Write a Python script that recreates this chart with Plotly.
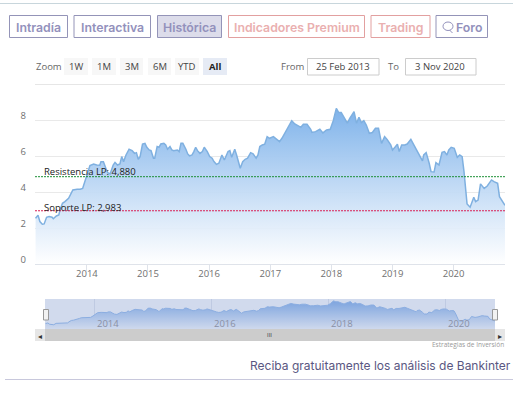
import pandas as pd
import plotly.graph_objects as go

W, H = 521, 394

# --- data ---
years = [2013.16,2013.20,2013.23,2013.27,2013.30,2013.34,2013.38,2013.43,2013.45,2013.50,2013.54,2013.56,2013.60,2013.64,2013.70,2013.74,2013.77,2013.84,2013.89,2013.93,2013.97,
2014.01,2014.05,2014.11,2014.16,2014.21,2014.23,2014.27,2014.31,2014.34,2014.38,2014.43,2014.46,2014.50,2014.54,2014.57,2014.60,2014.64,2014.69,2014.74,2014.78,2014.81,2014.84,2014.87,2014.91,2014.95,2014.98,
2015.02,2015.05,2015.09,2015.11,2015.15,2015.18,2015.21,2015.26,2015.29,2015.32,2015.36,2015.39,2015.42,2015.48,2015.51,2015.54,2015.57,2015.62,2015.65,2015.68,2015.72,2015.75,2015.78,2015.81,2015.85,2015.89,2015.92,2015.97,
2016.01,2016.05,2016.08,2016.12,2016.16,2016.21,2016.25,2016.31,2016.34,2016.37,2016.42,2016.45,2016.48,2016.51,2016.55,2016.59,2016.63,2016.68,2016.72,2016.77,2016.80,2016.83,2016.87,2016.91,2016.95,2016.99,
2017.05,2017.10,2017.15,2017.19,2017.25,2017.30,2017.35,2017.40,2017.46,2017.50,2017.54,2017.60,2017.66,2017.68,2017.74,2017.81,2017.86,2017.92,2017.98,
2018.03,2018.08,2018.12,2018.16,2018.21,2018.26,2018.30,2018.37,2018.41,2018.45,2018.49,2018.53,2018.57,2018.62,2018.67,2018.72,2018.77,2018.79,2018.82,2018.87,2018.91,2018.97,
2019.00,2019.05,2019.08,2019.11,2019.15,2019.20,2019.24,2019.30,2019.35,2019.40,2019.46,2019.49,2019.51,2019.55,2019.60,2019.63,2019.68,2019.71,2019.76,2019.79,2019.81,2019.85,2019.89,2019.92,2019.96,
2020.01,2020.06,2020.10,2020.14,2020.17,2020.20,2020.22,2020.27,2020.31,2020.33,2020.36,2020.40,2020.44,2020.50,2020.55,2020.62,2020.66,2020.72,2020.75,2020.80,2020.84]
prices = [2.56,2.73,2.38,2.23,2.25,2.62,2.66,2.62,2.54,2.69,2.75,3.03,3.40,3.49,3.68,3.96,4.14,4.18,4.18,4.23,4.61,
5.07,5.50,5.59,5.53,5.52,5.72,5.72,5.35,5.11,5.03,5.53,5.68,5.53,5.59,6.00,5.72,6.09,6.41,6.33,6.18,6.22,5.85,6.00,6.70,6.74,6.52,
6.37,6.33,5.91,5.91,6.56,6.52,6.70,6.74,6.65,6.41,6.56,6.37,6.33,6.37,6.28,6.74,6.74,6.41,6.15,6.04,6.09,6.28,6.52,6.33,6.18,6.28,6.52,6.28,
6.00,5.91,5.72,5.57,5.63,6.09,5.81,6.28,6.33,5.96,6.41,6.09,5.63,5.35,5.72,5.85,5.91,6.22,6.15,5.91,6.09,6.56,6.65,6.69,7.11,7.02,
7.11,6.96,6.83,7.02,7.39,7.67,8.00,7.82,7.71,7.63,7.80,7.80,7.52,7.35,7.39,7.52,7.32,7.48,7.52,
8.00,8.69,8.45,8.45,8.13,7.86,8.13,8.50,7.86,8.19,7.89,8.00,7.76,7.30,7.34,7.58,7.58,7.30,6.74,7.11,6.96,6.65,
6.37,6.56,6.69,6.28,6.65,6.65,6.70,6.96,6.65,6.37,6.00,5.76,6.09,6.22,5.63,5.16,5.14,5.66,5.53,6.00,6.24,6.28,6.09,6.37,6.52,6.46,
5.96,6.09,6.00,5.16,3.77,3.36,3.18,3.49,3.73,3.49,3.58,4.48,4.23,4.36,4.70,4.61,4.51,3.77,3.49,3.29]
resistencia = 4.880
soporte = 2.983
year_ticks = [2014, 2015, 2016, 2017, 2018, 2019, 2020]
y_ticks = [0, 2, 4, 6, 8]
nav_year_ticks = [2014, 2016, 2018, 2020]
start_date, end_date = "2013-02-25", "2020-11-03"

def to_date(y):
    yr = int(y)
    return pd.Timestamp(yr, 1, 1) + pd.Timedelta(days=(y - yr) * 365.25)

dates = [to_date(y) for y in years]
tick_dates = [f"{y}-01-01" for y in year_ticks]
nav_tick_dates = [f"{y}-01-01" for y in nav_year_ticks]

def px(x): return x / W
def py(y): return 1 - y / H

fig = go.Figure()
grad = dict(type="vertical", start=8.7, stop=0,
            colorscale=[[0, "rgba(126,178,234,1)"], [1, "rgba(255,255,255,0.9)"]])
fig.add_trace(go.Scatter(x=dates, y=prices, mode="lines", fill="tozeroy", fillgradient=grad,
                         line=dict(color="#7fb0e0", width=1.5), hoverinfo="skip", showlegend=False))
fig.add_trace(go.Scatter(x=[start_date, end_date], y=[resistencia]*2, mode="lines",
                         line=dict(color="#1c8f35", width=1, dash="2px,1px"), hoverinfo="skip", showlegend=False))
fig.add_trace(go.Scatter(x=[start_date, end_date], y=[soporte]*2, mode="lines",
                         line=dict(color="#d81e55", width=1, dash="2px,1px"), hoverinfo="skip", showlegend=False))
navgrad = dict(type="vertical", start=8.7, stop=1.2,
               colorscale=[[0, "rgba(135,178,234,1)"], [1, "rgba(250,252,255,1)"]])
fig.add_trace(go.Scatter(x=dates, y=prices, mode="lines", fill="tozeroy", fillgradient=navgrad,
                         line=dict(color="#9cc0ee", width=1), xaxis="x2", yaxis="y2",
                         hoverinfo="skip", showlegend=False))

LBL = "Open Sans"
shapes, ann = [], []
def rect(x0, y0, x1, y1, line=None, fill=None, lw=1, layer="above"):
    shapes.append(dict(type="rect", xref="paper", yref="paper", x0=px(x0), x1=px(x1), y0=py(y0), y1=py(y1),
                       line=dict(color=line or "rgba(0,0,0,0)", width=lw if line else 0),
                       fillcolor=fill or "rgba(0,0,0,0)", layer=layer))
def hline(x0, x1, y, color, lw=1):
    shapes.append(dict(type="line", xref="paper", yref="paper", x0=px(x0), x1=px(x1), y0=py(y), y1=py(y),
                       line=dict(color=color, width=lw), layer="above"))
def text(x, y, s, size=10, color="#444", anchor="center", family=LBL, weight=None):
    ann.append(dict(xref="paper", yref="paper", x=px(x), y=py(y), text=s, showarrow=False, xanchor=anchor,
                    yanchor="middle", borderpad=0,
                    font=dict(size=size, color=color, family=family, weight=weight)))

# top tabs
PUR, PUT, RED, RET = "#9494b8", "#9391bc", "#e2a0a0", "#eab0b0"
tabs = [("Intradía", 9.5, 67.5, PUR, PUT, None), ("Interactiva", 74, 150.5, PUR, PUT, None),
        ("Histórica", 157.5, 221.5, PUR, PUT, "#dcdcea"), ("Indicadores Premium", 228.5, 364.5, RED, RET, None),
        ("Trading", 371, 430, RED, RET, None), ("Foro", 436, 487.5, PUR, PUT, None)]
hline(0, 513, 3.5, "#c8d6dc")
for label, x0, x1, lc, tc, fc in tabs:
    rect(x0, 15.5, x1, 37.5, line=lc, fill=fc)
    cx = (x0 + x1) / 2 + (7 if label == "Foro" else 0)
    text(cx, 27, label, size=12.3, color=tc, family="Inter", weight=600)
shapes.append(dict(type="circle", xref="paper", yref="paper", x0=px(443), x1=px(453), y0=py(22), y1=py(30.5),
                   line=dict(color=PUT, width=1), layer="above"))
shapes.append(dict(type="line", xref="paper", yref="paper", x0=px(449.5), x1=px(452.5), y0=py(30), y1=py(33),
                   line=dict(color=PUT, width=1), layer="above"))

# range selector
text(35, 66.5, "Zoom", 9.5, "#666", "left")
for label, x0, x1 in [("1W", 64, 88), ("1M", 92, 116), ("3M", 120, 143), ("6M", 148, 171), ("YTD", 175, 199), ("All", 203, 227)]:
    active = label == "All"
    rect(x0, 58, x1, 75, fill="#e6ebf5" if active else "#f7f7f7")
    text((x0 + x1) / 2, 66.5, label, 9.5, "#222" if active else "#444", weight=700 if active else None)
text(280, 66.5, "From", 9.5, "#666", "left")
rect(307.5, 58.5, 379, 75, line="#cccccc")
text(343, 66.5, "25 Feb 2013", 9.5, "#444")
text(387, 66.5, "To", 9.5, "#666", "left")
rect(405.5, 58.5, 476, 75, line="#cccccc")
text(440, 66.5, "3 Nov 2020", 9.5, "#444")
hline(35, 505, 84.5, "#e6e6e6")

# level labels
text(42.5, 171, "Resistencia LP: 4,880", 9.5, "#222", "left")
text(42.5, 207, "Soporte LP: 2,983", 9.5, "#222", "left")

# navigator mask, handles, scrollbar
rect(45, 299, 495, 329, fill="rgba(102,133,194,0.3)")
rect(35, 329, 505, 341, fill="#f2f2f2")
rect(45, 329, 495, 341, fill="#cccccc")
rect(35, 329, 45, 341, fill="#e6e6e6")
rect(495, 329, 505, 341, fill="#e6e6e6")
for x in [43.5, 492.5]:
    rect(x, 309.5, x + 5, 320, line="#999999", fill="#f2f2f2")
text(40, 335, "◂", 8, "#333")
text(500, 335, "▸", 8, "#333")
text(269.5, 335, "III", 6, "#333")

# navigator year labels, placed through the navigator's own date axis
for y, d in zip(nav_year_ticks, nav_tick_dates):
    ann.append(dict(xref="x2", yref="paper", x=d, y=py(323), text=str(y), showarrow=False, xanchor="left",
                    yanchor="middle", xshift=0, font=dict(size=9.5, color="#8a90a5", family=LBL)))

# footer
text(505, 344, "Estrategias de Inversión", 6.5, "#999", "right")
text(512, 365, "Reciba gratuitamente los análisis de Bankinter", 12, "#5a5782", "right", family="Inter")
hline(5, 513, 379.5, "#c8c8dc")

fig.update_layout(
    width=W, height=H, margin=dict(l=0, r=0, t=0, b=0), paper_bgcolor="white", plot_bgcolor="white",
    shapes=shapes, annotations=ann, showlegend=False,
    xaxis=dict(domain=[px(35), px(505)], range=[start_date, end_date], type="date",
               tickmode="array", tickvals=tick_dates, ticktext=[str(y) for y in year_ticks],
               showgrid=False, showline=True, linecolor="#dfe3ea", ticks="outside", ticklen=6,
               tickcolor="#dfe3ea", zeroline=False, ticklabelstandoff=-6,
               tickfont=dict(size=9.5, color="#707070", family=LBL), anchor="y"),
    yaxis=dict(domain=[py(264.3), py(102.75)], range=[0, 9], tickmode="array", tickvals=y_ticks,
               ticktext=[str(v) for v in y_ticks], showgrid=True, gridcolor="#e9e9e9", zeroline=False,
               showline=False, ticks="", tickfont=dict(size=9.5, color="#707070", family=LBL),
               ticklabelshift=-5, ticklabelstandoff=8, anchor="x"),
    xaxis2=dict(domain=[px(45), px(495)], range=[start_date, end_date], type="date",
                tickmode="array", tickvals=nav_tick_dates, showticklabels=False,
                showgrid=True, gridcolor="#e6e9f0", ticks="", showline=False, zeroline=False, anchor="y2"),
    yaxis2=dict(domain=[py(329), py(299)], range=[1.1, 9.2], visible=False, showgrid=False, anchor="x2"),
)
fig.write_html("out.html", config=dict(displayModeBar=False),
               post_script="document.body.style.margin='0';")
